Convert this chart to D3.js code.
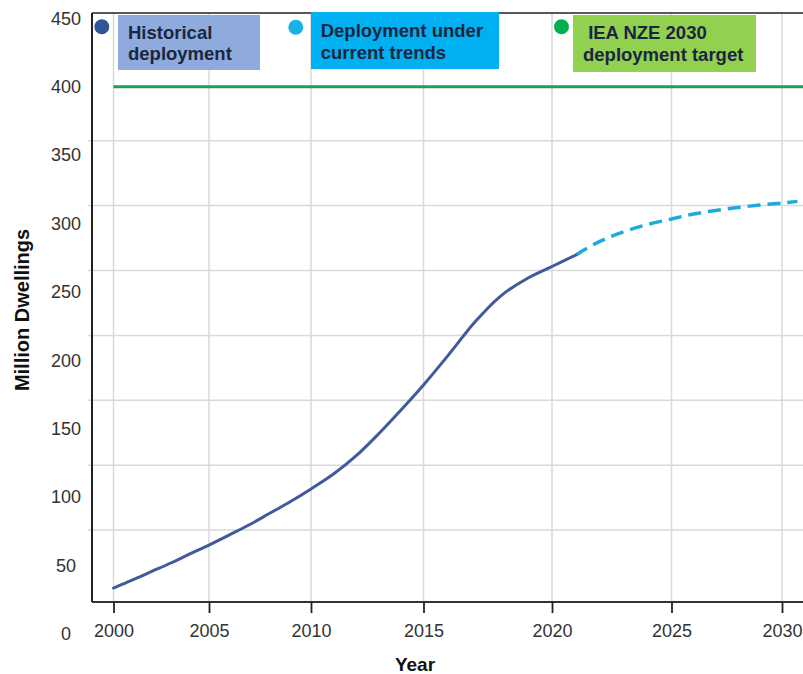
<!DOCTYPE html>
<html>
<head>
<meta charset="utf-8">
<script src="https://cdn.jsdelivr.net/npm/d3@7"></script>
<style>
  html, body { margin: 0; padding: 0; background: #fff; }
  svg { display: block; }
  text { font-family: Arial, "Liberation Sans", sans-serif; }
</style>
</head>
<body>
<svg id="chart" width="803" height="674"></svg>
<script>
// Historical deployment (million dwellings)
const histYears = [2000, 2001, 2002, 2003, 2004, 2005, 2006, 2007, 2008, 2009, 2010,
                   2011, 2012, 2013, 2014, 2015, 2016, 2017, 2018, 2019, 2020, 2021];
const histValues = [33.6, 39.5, 45.7, 51.9, 58.5, 65.0, 72.4, 80.0, 88.4, 96.8, 106.0,
                    116.9, 130.1, 146.2, 163.7, 182.0, 204.6, 228.0, 247.0, 259.5, 268.6, 277.0];

// Deployment under current trends
const projYears = [2021, 2022, 2023, 2024, 2025, 2026, 2027, 2028, 2029, 2030, 2030.7];
const projValues = [277.0, 287.0, 294.0, 299.3, 303.3, 307.0, 309.5, 311.7, 313.5, 315.0, 316.2];

// IEA NZE 2030 deployment target
const targetYears = [2000, 2031];
const targetValue = 400;

// Axis ticks
const xTicks = [2000, 2005, 2010, 2015, 2020, 2025, 2030];
const yTicks = [0, 50, 100, 150, 200, 250, 300, 350, 400, 450];
const gridValues = [50, 100, 150, 200, 250, 300, 350];

// Legend
const legendLabels = [["Historical", "deployment"], ["Deployment under", "current trends"], [" IEA NZE 2030", "deployment target"]];
const legendDotColors = ["#2f5597", "#1ab0e8", "#00b050"];
const legendBoxColors = ["#8faadc", "#00b0f0", "#92d050"];

const svg = d3.select("#chart");
const W = 803, H = 674;
const plotLeft = 92, plotTop = 13, plotBottom = 602;

svg.append("rect").attr("width", W).attr("height", H).attr("fill", "#fff");

// Year axis with uneven spacing between the labelled years
const x = d3.scaleLinear()
  .domain(xTicks)
  .range([113.5, 209, 311, 423.5, 552, 671.5, 782]);

// Value scale used for labels and data
const y = d3.scaleLinear().domain([0, 450]).range([634, 18.3]);
// Scale used for the horizontal guide lines
const yGrid = d3.scaleLinear().domain([0, 400]).range([595, 75.8]);

const gridColor = "#d9d9d9";
const labelColor = "#333";

// Horizontal guide lines
svg.append("g").selectAll("line").data(gridValues).join("line")
  .attr("x1", plotLeft - 4).attr("x2", W)
  .attr("y1", d => yGrid(d)).attr("y2", d => yGrid(d))
  .attr("stroke", gridColor).attr("stroke-width", 1.5);

// Vertical guide lines
svg.append("g").selectAll("line").data(xTicks).join("line")
  .attr("x1", d => x(d)).attr("x2", d => x(d))
  .attr("y1", plotTop).attr("y2", plotBottom)
  .attr("stroke", gridColor).attr("stroke-width", 1.5);

// Frame lines
svg.append("line").attr("x1", plotLeft).attr("x2", W).attr("y1", plotTop).attr("y2", plotTop)
  .attr("stroke", "#222").attr("stroke-width", 1.5);
svg.append("line").attr("x1", plotLeft).attr("x2", plotLeft).attr("y1", plotTop).attr("y2", plotBottom)
  .attr("stroke", "#222").attr("stroke-width", 2);
svg.append("line").attr("x1", plotLeft).attr("x2", W).attr("y1", plotBottom).attr("y2", plotBottom)
  .attr("stroke", "#333").attr("stroke-width", 2);

// X axis ticks and labels
const xAxis = svg.append("g")
  .attr("transform", `translate(0,${plotBottom})`)
  .call(d3.axisBottom(x).tickValues(xTicks).tickFormat(d3.format("d")).tickSize(11).tickPadding(11));
xAxis.select(".domain").remove();
xAxis.selectAll(".tick line").attr("stroke", "#222").attr("stroke-width", 1.8);
xAxis.selectAll(".tick text")
  .attr("font-size", 18).attr("fill", labelColor)
  .style("font-family", "Arial, 'Liberation Sans', sans-serif");

// Y axis labels
const yAxis = svg.append("g")
  .attr("transform", `translate(${plotLeft},0)`)
  .call(d3.axisLeft(y).tickValues(yTicks).tickSize(0).tickPadding(0));
yAxis.select(".domain").remove();
yAxis.selectAll(".tick text")
  .attr("x", -26).attr("text-anchor", "middle")
  .attr("font-size", 18).attr("fill", labelColor)
  .style("font-family", "Arial, 'Liberation Sans', sans-serif");

// Axis titles
svg.append("text")
  .attr("transform", "translate(29,310) rotate(-90)")
  .attr("text-anchor", "middle")
  .attr("font-size", 20).attr("font-weight", "bold").attr("fill", "#111")
  .text("Million Dwellings");
svg.append("text")
  .attr("x", 415).attr("y", 671)
  .attr("text-anchor", "middle")
  .attr("font-size", 19).attr("font-weight", "bold").attr("fill", "#111")
  .text("Year");

// Target line
svg.append("line")
  .attr("x1", x(targetYears[0])).attr("x2", x(targetYears[1]))
  .attr("y1", y(targetValue)).attr("y2", y(targetValue))
  .attr("stroke", "#1f9e55").attr("stroke-width", 3);

// Curves
const line = d3.line().x(d => x(d[0])).y(d => y(d[1])).curve(d3.curveCatmullRom.alpha(0.5));

svg.append("path")
  .datum(projYears.map((yr, i) => [yr, projValues[i]]))
  .attr("d", line)
  .attr("fill", "none")
  .attr("stroke", "#1fa9de").attr("stroke-width", 3.5)
  .attr("stroke-dasharray", "13,7");

svg.append("path")
  .datum(histYears.map((yr, i) => [yr, histValues[i]]))
  .attr("d", line)
  .attr("fill", "none")
  .attr("stroke", "#405a9c").attr("stroke-width", 3)
  .attr("stroke-linecap", "round");

// Legend
const legendBoxes = [
  { dot: [101.8, 26.7], box: [118, 15, 142, 55], text: [[128, 38.5], [128, 60]] },
  { dot: [295.8, 27.3], box: [311, 12, 188, 57], text: [[320.7, 37], [320.7, 58.5]] },
  { dot: [561.5, 26.7], box: [573, 15, 183, 57], text: [[583, 39], [583, 60.5]] }
];
legendBoxes.forEach((lb, i) => {
  svg.append("circle")
    .attr("cx", lb.dot[0]).attr("cy", lb.dot[1]).attr("r", 7.5)
    .attr("fill", legendDotColors[i]);
  svg.append("rect")
    .attr("x", lb.box[0]).attr("y", lb.box[1]).attr("width", lb.box[2]).attr("height", lb.box[3])
    .attr("fill", legendBoxColors[i]);
  const t = svg.append("text")
    .attr("font-size", 18.5).attr("font-weight", "bold").attr("fill", "#1a2640")
    .attr("xml:space", "preserve").style("white-space", "pre");
  legendLabels[i].forEach((s, j) => {
    t.append("tspan").attr("x", lb.text[j][0]).attr("y", lb.text[j][1]).text(s);
  });
});
</script>
</body>
</html>
